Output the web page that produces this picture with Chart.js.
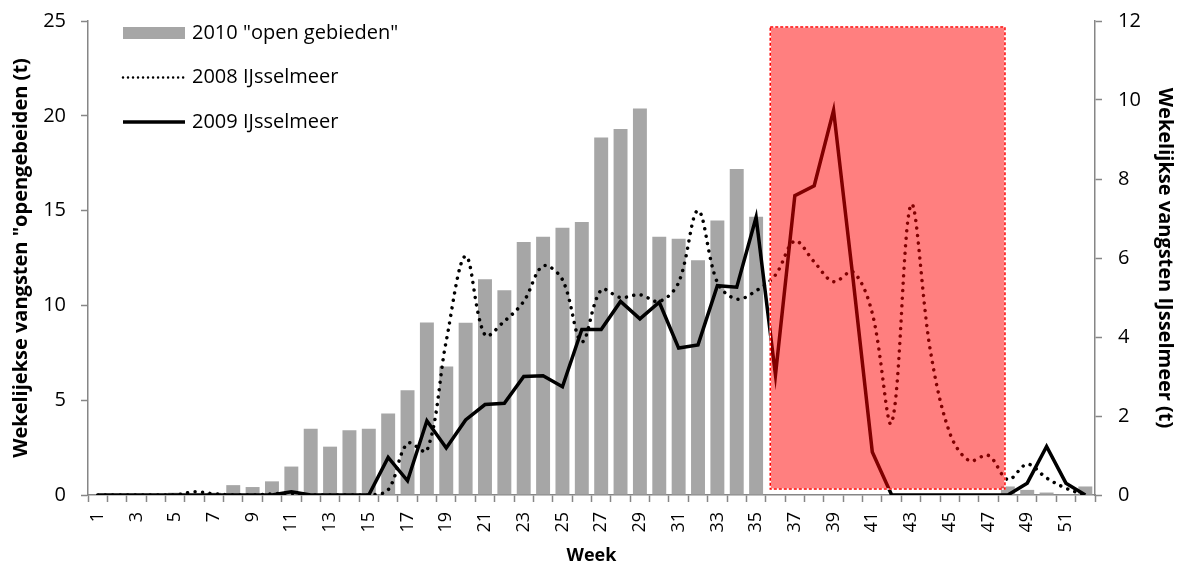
<!DOCTYPE html>
<html>
<head>
<meta charset="utf-8">
<script src="https://cdn.jsdelivr.net/npm/chart.js@4.4.1/dist/chart.umd.min.js"></script>
<style>
  html, body { margin: 0; padding: 0; background: #fff; }
</style>
</head>
<body>
<canvas id="chart" width="1184" height="568"></canvas>
<script>
// week numbers on the x axis
const weeks = ['1','2','3','4','5','6','7','8','9','10','11','12','13','14','15','16','17','18','19','20',
  '21','22','23','24','25','26','27','28','29','30','31','32','33','34','35','36','37','38','39','40',
  '41','42','43','44','45','46','47','48','49','50','51','52'];

// 2010 "open gebieden" (left axis, t)
const open2010 = [0, 0, 0, 0, 0.12, 0, 0.12, 0.52, 0.42, 0.72, 1.5, 3.5, 2.55, 3.42, 3.5, 4.3, 5.52, 9.1,
  6.78, 9.08, 11.38, 10.8, 13.35, 13.62, 14.1, 14.4, 18.85, 19.3, 20.38, 13.62, 13.52, 12.38, 14.48, 17.2, 14.68,
  0, 0, 0, 0, 0, 0, 0, 0, 0, 0, 0, 0, 0.45, 0.27, 0.13, 0.04, 0.45];

// 2008 IJsselmeer (right axis, t)
const ijssel2008 = [0, 0, 0, 0, 0, 0.08, 0.03, 0, 0, 0.03, 0.04, 0, 0, 0, 0, 0.13, 1.31, 1.12,
  3.9, 6.05, 4.05, 4.4, 4.9, 5.8, 5.45, 3.88, 5.19, 5.0, 5.07, 4.9, 5.38, 7.2, 5.38, 4.96, 5.17,
  5.57, 6.43, 5.9, 5.4, 5.65, 4.6, 1.83, 7.35, 3.65, 1.57, 0.87, 1.0, 0.39, 0.78, 0.43, 0.17, 0];

// 2009 IJsselmeer (right axis, t)
const ijssel2009 = [0, 0, 0, 0, 0, 0, 0, 0, 0, 0, 0.08, 0, 0, 0, 0, 0.95, 0.36, 1.88,
  1.19, 1.9, 2.29, 2.32, 3.0, 3.02, 2.74, 4.19, 4.19, 4.9, 4.46, 4.88, 3.72, 3.8, 5.3, 5.26, 7.03,
  3.04, 7.58, 7.83, 9.74, 5.5, 1.09, 0, 0, 0, 0, 0, 0, 0, 0.3, 1.23, 0.3, 0];

const leftMax = 25;
const rightMax = 12;

// shaded period (in week numbers and right-axis tonnes)
const closedPeriod = { fromWeek: 35.73, toWeek: 47.85, low: 0.15, high: 11.85 };

const axisGray = '#868686';
Chart.defaults.font.family = "'Open Sans', sans-serif";
Chart.defaults.color = '#000';

// red box drawn on top of the datasets
const periodBox = {
  id: 'periodBox',
  afterDatasetsDraw(chart) {
    const { ctx } = chart;
    const x = chart.scales.x;
    const y = chart.scales.yRight;
    const x1 = x.getPixelForValue(closedPeriod.fromWeek - 1);
    const x2 = x.getPixelForValue(closedPeriod.toWeek - 1);
    const y1 = y.getPixelForValue(closedPeriod.high);
    const y2 = y.getPixelForValue(closedPeriod.low);
    ctx.save();
    ctx.fillStyle = 'rgba(255, 0, 0, 0.5)';
    ctx.fillRect(x1, y1, x2 - x1, y2 - y1);
    ctx.lineWidth = 1.5;
    ctx.strokeStyle = '#ffffff';
    ctx.strokeRect(x1, y1, x2 - x1, y2 - y1);
    ctx.setLineDash([3, 2]);
    ctx.strokeStyle = '#ff0000';
    ctx.strokeRect(x1, y1, x2 - x1, y2 - y1);
    ctx.restore();
  }
};

// legend in the top left corner of the plot
const cornerLegend = {
  id: 'cornerLegend',
  afterDraw(chart) {
    const { ctx, chartArea } = chart;
    const x0 = chartArea.left + 35;
    let yRow = chartArea.top + 12;
    ctx.save();
    ctx.font = "20px 'Open Sans', sans-serif";
    ctx.textBaseline = 'middle';
    chart.data.datasets.forEach(ds => {
      if (ds.type === 'line') {
        ctx.beginPath();
        ctx.lineWidth = ds.borderDash ? 2.5 : 3.5;
        ctx.strokeStyle = ds.borderColor;
        ctx.lineCap = ds.borderDash ? 'round' : 'butt';
        ctx.setLineDash(ds.borderDash ? [0.01, 5] : []);
        ctx.moveTo(x0, yRow);
        ctx.lineTo(x0 + 62, yRow);
        ctx.stroke();
        ctx.setLineDash([]);
      } else {
        ctx.fillStyle = ds.backgroundColor;
        ctx.fillRect(x0, yRow - 6, 62, 12);
      }
      ctx.fillStyle = '#000';
      ctx.fillText(ds.label, x0 + 69, yRow);
      yRow += 44.5;
    });
    ctx.restore();
  }
};

// fixed box sizes so the plot area lands where the original has it
const fitY = width => s => { s.width = width; s.paddingTop = 0; s.paddingBottom = 0; };

new Chart(document.getElementById('chart'), {
  type: 'bar',
  data: {
    labels: weeks,
    datasets: [
      {
        label: '2010 "open gebieden"',
        data: open2010,
        yAxisID: 'yLeft',
        backgroundColor: '#a6a6a6',
        barPercentage: 0.72,
        categoryPercentage: 1,
        order: 3
      },
      {
        type: 'line',
        label: '2008 IJsselmeer',
        data: ijssel2008,
        yAxisID: 'yRight',
        borderColor: '#000',
        borderWidth: 3.5,
        borderDash: [0.01, 7.5],
        borderCapStyle: 'round',
        pointRadius: 0,
        tension: 0.35,
        order: 2
      },
      {
        type: 'line',
        label: '2009 IJsselmeer',
        data: ijssel2009,
        yAxisID: 'yRight',
        borderColor: '#000',
        borderWidth: 3.5,
        borderJoinStyle: 'miter',
        pointRadius: 0,
        tension: 0,
        order: 1
      }
    ]
  },
  options: {
    responsive: false,
    animation: false,
    layout: { padding: { top: 21 } },
    plugins: {
      legend: { display: false },
      tooltip: { enabled: false }
    },
    scales: {
      x: {
        offset: true,
        grid: { display: true, offset: true, drawOnChartArea: false, tickLength: 7, tickColor: axisGray, tickWidth: 1.5 },
        border: { color: axisGray, width: 1.5 },
        ticks: {
          autoSkip: false,
          maxRotation: 90,
          minRotation: 90,
          padding: 10,
          font: { size: 18 },
          callback: (v, i) => (i % 2 === 0 ? weeks[i] : '')
        },
        title: { display: true, text: 'Week', font: { size: 18, weight: 'bold' }, padding: { top: 0, bottom: 1 } },
        afterFit: s => { s.height = 73; }
      },
      yLeft: {
        position: 'left',
        min: 0,
        max: leftMax,
        grid: { drawOnChartArea: false, tickLength: 7, tickColor: axisGray, tickWidth: 1.5 },
        border: { color: axisGray, width: 1.5 },
        ticks: { stepSize: 5, padding: 15, font: { size: 20 } },
        title: { display: true, text: 'Wekelijekse vangsten "opengebeiden (t)', font: { size: 20, weight: 'bold' }, padding: { top: 9, bottom: 0 } },
        afterFit: fitY(88)
      },
      yRight: {
        position: 'right',
        min: 0,
        max: rightMax,
        grid: { drawOnChartArea: false, tickLength: 7, tickColor: axisGray, tickWidth: 1.5 },
        border: { color: axisGray, width: 1.5 },
        ticks: { stepSize: 2, padding: 16, font: { size: 20 } },
        title: { display: true, text: 'Wekelijkse vangsten IJsselmeer (t)', font: { size: 20, weight: 'bold' }, padding: { top: 7, bottom: 0 } },
        afterFit: fitY(89)
      }
    }
  },
  plugins: [periodBox, cornerLegend]
});
</script>
</body>
</html>
